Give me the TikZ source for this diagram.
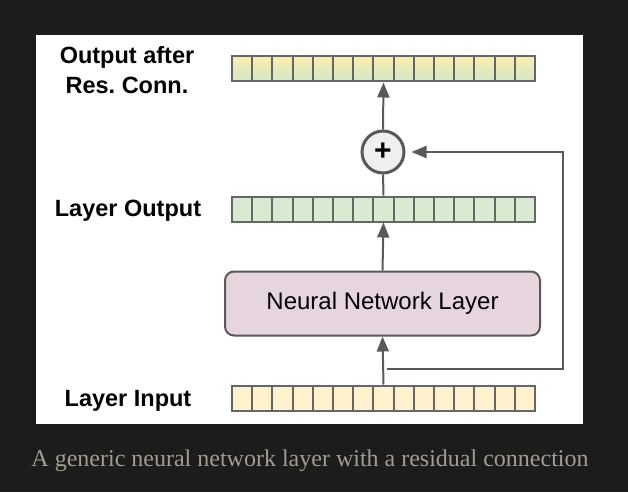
\documentclass[tikz,border=0pt]{standalone}
\usepackage{fontspec}
\setmainfont{Liberation Serif}
\setsansfont{Liberation Sans}
\usetikzlibrary{arrows.meta,calc}
\definecolor{bgdark}{HTML}{1C1C1C}
\definecolor{edgegray}{HTML}{666666}
\definecolor{linegray}{HTML}{595959}
\definecolor{inyellow}{HTML}{FFF2CC}
\definecolor{outgreen}{HTML}{D9EAD3}
\definecolor{resyellow}{HTML}{FAEDAE}
\definecolor{resgreen}{HTML}{D3E7C6}
\definecolor{layerpink}{HTML}{E6D4DF}
\definecolor{plusfill}{HTML}{EFEFEF}
\definecolor{captiongray}{HTML}{A39C8F}
\tikzset{
  cell/.style={draw=edgegray, line width=2pt, minimum width=20.2pt, minimum height=25pt, inner sep=0pt},
  rowlabel/.style={font=\sffamily\bfseries\fontsize{23.5}{30}\selectfont, align=center, inner sep=0pt},
  flow/.style={draw=linegray, line width=2pt, -{Triangle[length=15pt,width=12pt]}},
  wire/.style={draw=linegray, line width=2pt},
}

\begin{document}
\begin{tikzpicture}[x=1pt,y=-1pt]
		\fill[bgdark] (0,0) rectangle (628,492);
		\fill[white] (36,35) rectangle (583,424);
		\useasboundingbox (0,0) rectangle (628,492);
		% the three vectors
		\foreach \i in {1,...,15} {
			\node[cell, top color=resyellow, bottom color=resgreen] (res\i) at ({232+(\i-0.5)*20.2},69) {};
			\node[cell, fill=outgreen] (lout\i) at ({232+(\i-0.5)*20.2},209) {};
			\node[cell, fill=inyellow] (lin\i) at ({232+(\i-0.5)*20.2},398) {};
		}
		\node[draw=linegray, line width=2pt, fill=layerpink, rounded corners=9pt, minimum width=315pt, minimum height=64pt, font=\sffamily\fontsize{24}{28}\selectfont] (nnl) at (382.5,303.5) {Neural Network Layer};
		\node[circle, draw=linegray, line width=3pt, fill=plusfill, minimum size=42pt, inner sep=0pt, font=\sffamily\bfseries\fontsize{30}{30}\selectfont] (plus) at (383,152) {+};
		\node[rowlabel] (reslabel) at (127,70.3) {Output after\\Res.\ Conn.};
		\node[rowlabel, anchor=base] (outlabel) at (128,216.7) {Layer Output};
		\node[rowlabel, anchor=base] (inlabel) at (128,406.7) {Layer Input};
		\node[text=captiongray, font=\fontsize{24}{28}\selectfont, inner sep=0pt, anchor=base] (caption) at (310,466) {A generic neural network layer with a residual connection};
		\draw[flow] (lin8.north) -- (nnl.south);
		\draw[flow] (nnl.north) -- (lout8.south);
		\draw[wire] (lout8.north) -- (plus.south);
		\draw[flow] (plus.north) -- (res8.south);
		% residual path
		\coordinate (branch) at ($(lin8.north)+(3,-16)$);
		\coordinate (rbot) at (563,368.5);
		\coordinate (rtop) at (563,152);
		\draw[flow, shorten >=6pt] (branch) -- (rbot) -- (rtop) -- (plus.east);
\end{tikzpicture}
\end{document}
